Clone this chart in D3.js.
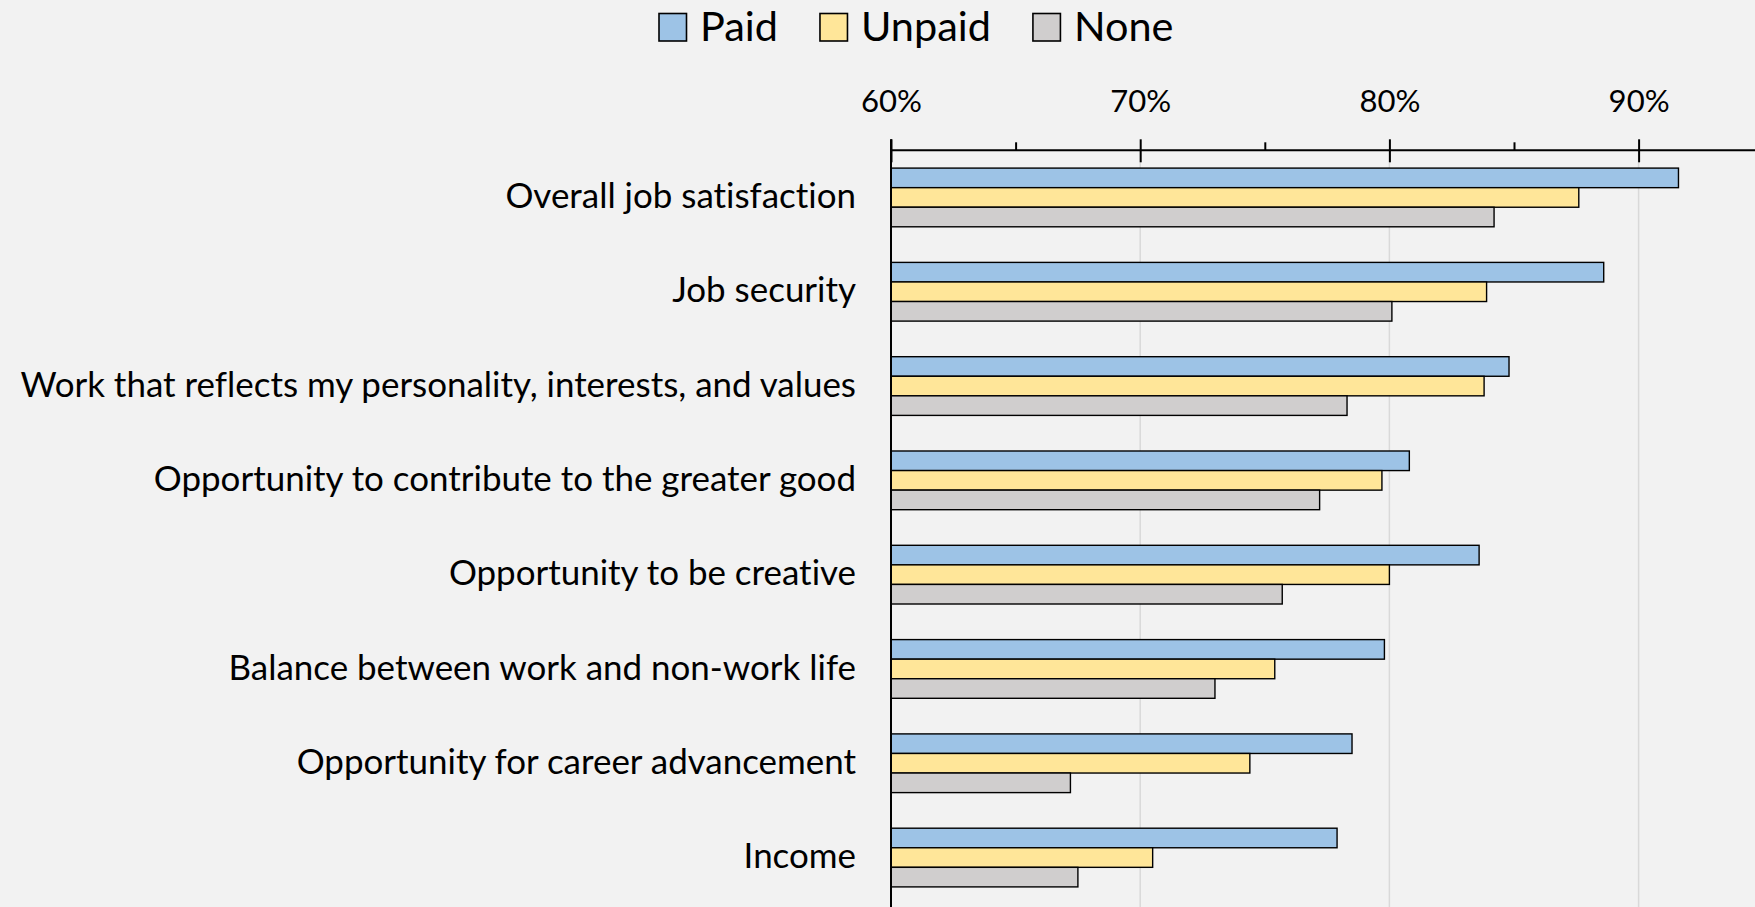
<!DOCTYPE html>
<html>
<head>
<meta charset="utf-8">
<script src="https://cdn.jsdelivr.net/npm/d3@7"></script>
<style>
  html, body { margin: 0; padding: 0; background: #f2f2f2; }
  svg { display: block; }
  text { font-variant-ligatures: none; font-feature-settings: "liga" 0, "clig" 0; }
</style>
</head>
<body>
<svg id="chart" width="1755" height="907"></svg>
<script>
// Job attributes and share of respondents satisfied, by internship type
const categories = [
  "Overall job satisfaction",
  "Job security",
  "Work that reflects my personality, interests, and values",
  "Opportunity to contribute to the greater good",
  "Opportunity to be creative",
  "Balance between work and non-work life",
  "Opportunity for career advancement",
  "Income"
];
const seriesNames = ["Paid", "Unpaid", "None"];
const paid   = [0.916, 0.886, 0.848, 0.808, 0.836, 0.798, 0.785, 0.779];
const unpaid = [0.876, 0.839, 0.838, 0.797, 0.800, 0.754, 0.744, 0.705];
const none   = [0.842, 0.801, 0.783, 0.772, 0.757, 0.730, 0.672, 0.675];
const majorTicks = [0.6, 0.7, 0.8, 0.9];
const minorTicks = [0.65, 0.75, 0.85];
const tickLabels = ["60%", "70%", "80%", "90%"];

const seriesValues = [paid, unpaid, none];
const colors = ["#9dc3e6", "#ffe699", "#d0cece"];
const FONT = "Lato, 'Open Sans', 'Noto Sans', sans-serif";

const svg = d3.select("#chart");
const W = 1755, H = 907;
const plot = { left: 891, top: 150.3, bottom: 904.7 };

const x = d3.scaleLinear().domain([0.6, 0.95]).range([plot.left, plot.left + 3.5 * 249.2]);
const y0 = d3.scaleBand().domain(categories).range([plot.top, plot.bottom])
  .paddingInner(0.3775).paddingOuter(0.3775 / 2);
const y1 = d3.scaleBand().domain(seriesNames).range([0, y0.bandwidth()]);

// measure helper: width of a string at a given font size
const probe = svg.append("text").attr("font-family", FONT).attr("visibility", "hidden");
function textWidth(str, size) {
  probe.attr("font-size", size).text(str);
  return probe.node().getComputedTextLength();
}
function fitSize(str, target) {
  return 36 * target / textWidth(str, 36);
}
const catSize = fitSize(categories[2], 836);
const tickSize = fitSize("60%", 61);
const legendSize = fitSize("Paid", 78);
probe.remove();

// vertical gridlines
svg.append("g").selectAll("line")
  .data(majorTicks.slice(1))
  .join("line")
  .attr("x1", d => x(d)).attr("x2", d => x(d))
  .attr("y1", plot.top).attr("y2", H)
  .attr("stroke", "#d9d9d9").attr("stroke-width", 1.5);

// bars
const groups = svg.append("g").selectAll("g")
  .data(categories)
  .join("g")
  .attr("transform", d => `translate(0,${y0(d)})`);

groups.selectAll("rect")
  .data((d, i) => seriesNames.map((s, j) => ({ s, v: seriesValues[j][i], j })))
  .join("rect")
  .attr("x", x(0.6))
  .attr("y", d => y1(d.s))
  .attr("width", d => x(d.v) - x(0.6))
  .attr("height", y1.bandwidth())
  .attr("fill", d => colors[d.j])
  .attr("stroke", "#000")
  .attr("stroke-width", 1.4);

// category labels
svg.append("g").selectAll("text")
  .data(categories)
  .join("text")
  .attr("x", plot.left - 35)
  .attr("y", d => y0(d) + y0.bandwidth() / 2 + catSize * 0.36 - 2)
  .attr("text-anchor", "end")
  .attr("font-family", FONT)
  .attr("font-size", catSize)
  .attr("fill", "#000")
  .text(d => d);

// top value axis: major ticks cross the line, minor ticks sit above it
const axisG = svg.append("g").attr("transform", `translate(0,${plot.top})`);
axisG.call(d3.axisTop(x).tickValues(majorTicks).tickSize(11)
  .tickFormat((d, i) => tickLabels[i]));
axisG.select(".domain").remove();
axisG.selectAll(".tick line").attr("y1", 12).attr("y2", -11)
  .attr("stroke", "#000").attr("stroke-width", 2);
axisG.selectAll(".tick text")
  .attr("y", -38).attr("dy", null)
  .attr("font-family", FONT).attr("font-size", tickSize).attr("fill", "#000");

const minorG = svg.append("g").attr("transform", `translate(0,${plot.top})`);
minorG.call(d3.axisTop(x).tickValues(minorTicks).tickSize(8).tickFormat(""));
minorG.select(".domain").remove();
minorG.selectAll(".tick line").attr("stroke", "#000").attr("stroke-width", 2);

svg.append("line")
  .attr("x1", plot.left).attr("x2", W)
  .attr("y1", plot.top).attr("y2", plot.top)
  .attr("stroke", "#000").attr("stroke-width", 2);
svg.append("line")
  .attr("x1", plot.left).attr("x2", plot.left)
  .attr("y1", plot.top - 11).attr("y2", H)
  .attr("stroke", "#000").attr("stroke-width", 2);

// legend
const legend = svg.append("g");
let lx = 659;
seriesNames.forEach((name, j) => {
  legend.append("rect")
    .attr("x", lx).attr("y", 13.5)
    .attr("width", 27.5).attr("height", 27.5)
    .attr("fill", colors[j]).attr("stroke", "#000").attr("stroke-width", 1.6);
  const t = legend.append("text")
    .attr("x", lx + 41).attr("y", 40.7)
    .attr("font-family", FONT).attr("font-size", legendSize)
    .attr("fill", "#000").text(name);
  lx = lx + 41 + t.node().getComputedTextLength() + 42;
});
</script>
</body>
</html>
